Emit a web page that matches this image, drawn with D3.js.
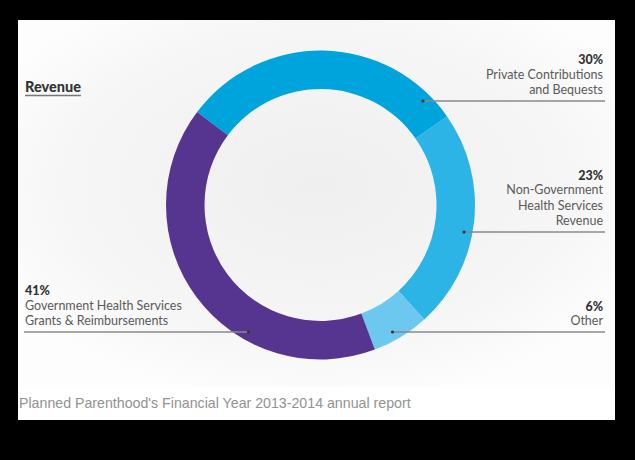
<!DOCTYPE html>
<html><head><meta charset="utf-8">
<script src="https://cdn.jsdelivr.net/npm/d3@7"></script>
<style>html,body{margin:0;padding:0;background:#000;}svg{display:block;}</style>
</head><body>
<script>
const categories = ["Private Contributions and Bequests", "Non-Government Health Services Revenue", "Other", "Government Health Services Grants & Reimbursements"];
const values = [30, 23, 6, 41];
const percentLabels = ["30%", "23%", "6%", "41%"];
const labelLines = [["Private Contributions", "and Bequests"], ["Non-Government", "Health Services", "Revenue"], ["Other"], ["Government Health Services", "Grants & Reimbursements"]];
const colors = ["#00a4dd", "#2cb4e7", "#6cc8ef", "#563590"];
const title = "Revenue";
const caption = "Planned Parenthood's Financial Year 2013-2014 annual report";

// layout
const W = 635, H = 460;
const cx = 320.5, cy = 205, R = 154.5, r = 116;
const leaderY = [101, 232, 332, 332];
const side = ["right", "right", "right", "left"];
const dotR = 146;

const svg = d3.select("body").append("svg").attr("width", W).attr("height", H);
const defs = svg.append("defs");
const grad = defs.append("radialGradient").attr("id", "bg").attr("cx", "50%").attr("cy", "45%").attr("r", "60%");
grad.append("stop").attr("offset", "0%").attr("stop-color", "#efefef");
grad.append("stop").attr("offset", "70%").attr("stop-color", "#f6f6f6");
grad.append("stop").attr("offset", "100%").attr("stop-color", "#fdfdfd");

svg.append("rect").attr("x", 0).attr("y", 0).attr("width", W).attr("height", H).attr("fill", "#000");
svg.append("rect").attr("x", 18).attr("y", 20).attr("width", 597).attr("height", 400).attr("fill", "#fff");
svg.append("rect").attr("x", 18).attr("y", 20).attr("width", 597).attr("height", 367).attr("fill", "url(#bg)");

const start = -53 * Math.PI / 180;
const pie = d3.pie().sort(null).value(d => d).startAngle(start).endAngle(start + 2 * Math.PI);
const arc = d3.arc().innerRadius(r).outerRadius(R);
const g = svg.append("g").attr("transform", `translate(${cx},${cy})`);
g.selectAll("path").data(pie(values)).join("path")
  .attr("d", arc).attr("fill", (d, i) => colors[i]);

// labels & leaders
const font = "Lato, 'Open Sans', sans-serif";
values.forEach((v, i) => {
  const y = leaderY[i];
  const dy = y - cy;
  const dx = Math.sqrt(dotR * dotR - dy * dy);
  const isRight = side[i] === "right";
  const x0 = isRight ? cx + dx : cx - dx;
  const x1 = isRight ? 605 : 24;
  svg.append("line").attr("x1", x0).attr("x2", x1).attr("y1", y).attr("y2", y)
    .attr("stroke", "#8a8a8a").attr("stroke-width", 1.5);
  svg.append("circle").attr("cx", x0).attr("cy", y).attr("r", 1.6).attr("fill", "#333");
  const tx = isRight ? 603 : 25;
  const anchor = isRight ? "end" : "start";
  const lines = labelLines[i];
  const lastBase = y - 7;
  const firstBase = lastBase - (lines.length - 1) * 15.3;
  svg.append("text").attr("x", tx).attr("y", firstBase - 14.5)
    .attr("text-anchor", anchor).attr("font-family", font).attr("font-weight", 900)
    .attr("font-size", 12.5).attr("fill", "#333").text(percentLabels[i]);
  lines.forEach((t, j) => {
    svg.append("text").attr("x", tx).attr("y", firstBase + j * 15.3)
      .attr("text-anchor", anchor).attr("font-family", font)
      .attr("font-size", 12.5).attr("fill", "#5a5a5a").text(t);
  });
});

// title
const tt = svg.append("text").attr("x", 25).attr("y", 92).attr("font-family", font)
  .attr("font-weight", 900).attr("font-size", 14.5).attr("fill", "#333").text(title);
const tw = tt.node().getComputedTextLength();
svg.append("line").attr("x1", 25).attr("x2", 25 + tw).attr("y1", 95.5).attr("y2", 95.5)
  .attr("stroke", "#777").attr("stroke-width", 1.5);

svg.append("text").attr("x", 19).attr("y", 408).attr("font-family", "'Liberation Sans', Arial, sans-serif")
  .attr("font-size", 14.2).attr("fill", "#929292").text(caption);
</script>
</body></html>
